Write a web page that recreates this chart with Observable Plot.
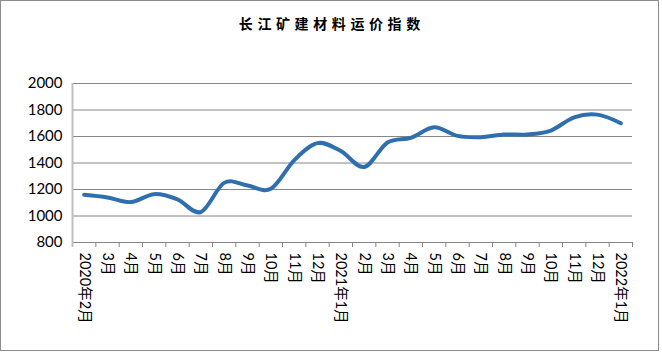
<!DOCTYPE html>
<html>
<head>
<meta charset="utf-8">
<script src="https://cdn.jsdelivr.net/npm/d3@7"></script>
<script src="https://cdn.jsdelivr.net/npm/@observablehq/plot@0.6"></script>
<style>
  html, body { margin: 0; padding: 0; background: #fff; }
  #frame {
    box-sizing: border-box;
    width: 659px; height: 351px;
    border: 1px solid #8c8c8c;
    overflow: hidden;
    background: #fff;
  }
  #title {
    height: 45px; box-sizing: border-box;
    padding-top: 12px; line-height: 20px;
    text-align: center;
    font-family: "Noto Sans CJK SC", sans-serif;
    font-weight: bold; font-size: 14px;
    letter-spacing: 4.6px; padding-left: 4.6px;
    color: #000;
  }
  svg { display: block; overflow: visible; }
</style>
</head>
<body>
<div id="frame">
  <div id="title">长江矿建材料运价指数</div>
  <div id="chart"></div>
</div>
<script>
const title = "长江矿建材料运价指数";
const months = ["2020年2月","3月","4月","5月","6月","7月","8月","9月","10月","11月","12月",
                "2021年1月","2月","3月","4月","5月","6月","7月","8月","9月","10月","11月","12月",
                "2022年1月"];
const values = [1160,1140,1105,1165,1125,1030,1250,1230,1205,1420,1550,
                1490,1370,1555,1590,1670,1605,1595,1615,1615,1645,1745,1765,
                1700];
const yTicks = [800,1000,1200,1400,1600,1800,2000];

const data = months.map((m, i) => ({pos: i + 0.5, label: m, value: values[i]}));
const boundaries = d3.range(0, months.length + 1);

const chart = Plot.plot({
  width: 657,
  height: 304,
  marginTop: 37,
  marginBottom: 108,
  marginLeft: 71,
  marginRight: 26,
  style: {fontFamily: "Lato, 'Noto Sans CJK SC', sans-serif", color: "#000", background: "#fff"},
  x: {type: "linear", domain: [0, months.length]},
  y: {domain: [800, 2000]},
  marks: [
    Plot.gridY(yTicks, {stroke: "#868686", strokeOpacity: 1, strokeWidth: 1}),
    Plot.axisY(yTicks, {tickSize: 0, tickPadding: 10, fontSize: 15, label: null, fill: "#000", tickFormat: d => String(d)}),
    Plot.axisX(boundaries, {tickSize: 5, tickFormat: () => "", label: null, stroke: "#868686"}),
    Plot.ruleX([0], {stroke: "#bfbfbf", strokeWidth: 2, insetBottom: -5}),
    Plot.line(data, {x: "pos", y: "value", curve: "cardinal", stroke: "#2f6fad", strokeWidth: 4, strokeLinecap: "round"}),
    Plot.text(data, {x: "pos", frameAnchor: "bottom", text: "label", rotate: 90, textAnchor: "start", lineAnchor: "middle", dy: 10, fontSize: 14.5, fill: "#000"})
  ]
});
document.getElementById("chart").appendChild(chart);
</script>
</body>
</html>
